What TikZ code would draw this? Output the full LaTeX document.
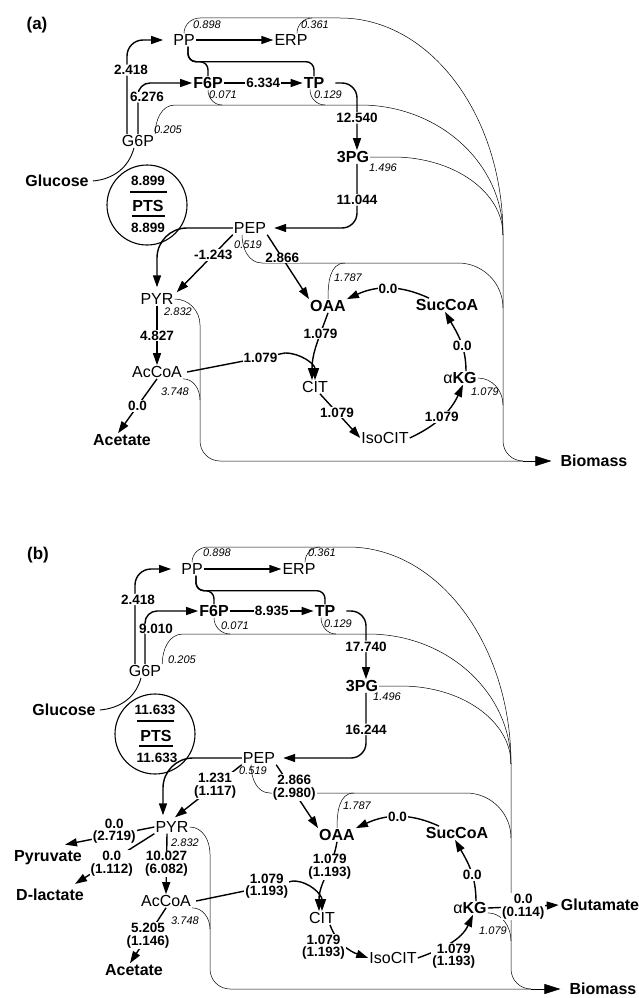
\documentclass[tikz,border=0pt]{standalone}
\usepackage{fontspec}
\setmainfont{Liberation Sans}
\usetikzlibrary{arrows.meta}

\begin{document}
\begin{tikzpicture}[x=1pt,y=1pt,
    met/.style={font=\fontsize{16}{18}\selectfont,inner sep=1pt},
    metb/.style={font=\bfseries\fontsize{16}{18}\selectfont,inner sep=1pt},
    val/.style={font=\bfseries\fontsize{13.5}{12.5}\selectfont,fill=white,
                inner sep=1pt,align=center},
    bio/.style={font=\itshape\fontsize{11}{11}\selectfont,inner sep=0.5pt},
    fl/.style={line width=1.4pt},
    flux/.style={fl,-{Triangle[length=12pt,width=8pt]}},
    drain/.style={line width=0.5pt},
    bigarr/.style={drain,-{Triangle[length=16pt,width=10pt]}},
    pts/.style={draw,circle,line width=1.1pt,minimum size=80pt},
    lbl/.style={font=\bfseries\fontsize{17}{17}\selectfont}]

  \useasboundingbox (0,0) rectangle (639,-998);

  % ---------- panel (a) ----------
  \node[lbl] (taga) at (37,-25) {(a)};
  \node[met]  (PPa)  at (184,-40) {PP};
  \node[met]  (ERPa) at (291,-40) {ERP};
  \node[metb] (F6Pa) at (208,-83) {F6P};
  \node[metb] (TPa)  at (314,-83) {TP};
  \node[met]  (G6Pa) at (138,-141) {G6P};
  \node[metb] (PGa)  at (353,-157) {3PG};
  \node[metb] (Glca) at (57,-181) {Glucose};
  \node[pts]  (PTSa) at (147,-205) {};
  \node[met]  (PEPa) at (250,-228) {PEP};
  \node[met]  (PYRa) at (157,-299) {PYR};
  \node[metb] (OAAa) at (328,-306) {OAA};
  \node[metb] (SucCoAa) at (447,-305) {SucCoA};
  \node[met]  (AcCoAa) at (157,-372) {AcCoA};
  \node[metb] (KGa)  at (460,-378) {{\mdseries α}KG};
  \node[met]  (CITa) at (315,-387) {CIT};
  \node[met]  (IsoCITa) at (385,-438) {IsoCIT};
  \node[metb] (Aceta) at (122,-440) {Acetate};
  \node[metb] (Bioa) at (594,-461) {Biomass};

  \node[val,fill=none] (ptsina) at (148,-181) {8.899};
  \node[metb] (ptsa) at (148,-206) {PTS};
  \node[val,fill=none] (ptsouta) at (148,-228) {8.899};
  \draw[line width=1.2pt] (130,-192) -- (167,-192);
  \draw[line width=1.2pt] (132,-216) -- (165,-216);

  % drains to biomass
  \draw[drain] (PPa.north) to[out=90,in=180] (200,-18) -- (340,-18)
    arc[start angle=90,end angle=0,x radius=163,y radius=217] -- (503,-441)
    arc[start angle=180,end angle=270,radius=20];
  \draw[drain] ([xshift=6pt]ERPa.north) to[out=90,in=180] (312,-18);
  \draw[drain] (G6Pa.north east) to[out=90,in=180] (175,-105) -- (360,-105)
    arc[start angle=90,end angle=0,x radius=143,y radius=130];
  \draw[drain] (F6Pa.south) to[out=-90,in=180] (222,-105);
  \draw[drain] ([xshift=-4pt]TPa.south) to[out=-90,in=180] (325,-105);
  \draw[drain] (PGa.east) -- (393,-157)
    arc[start angle=90,end angle=0,x radius=110,y radius=78];
  \draw[drain] ([xshift=-8pt]PEPa.south) to[out=-90,in=180] (262,-263) -- (458,-263)
    arc[start angle=90,end angle=0,radius=45];
  \draw[drain] (OAAa.north) to[out=90,in=180] (345,-263);
  \draw[drain] (KGa.east) to[out=0,in=90] (503,-405);
  \draw[drain] (PYRa.east) to[out=0,in=90] (200,-325) -- (200,-441)
    arc[start angle=180,end angle=270,radius=20] -- (523,-461);
  \draw[drain] (AcCoAa.south east) to[out=0,in=90] (200,-400);
  \draw[bigarr] (523,-461) -- ([xshift=-8pt]Bioa.west);

  % fluxes
  \draw[flux,rounded corners=16pt] ([xshift=-11pt]G6Pa.north) |- node[val,pos=0.34,xshift=4pt]{2.418} ([xshift=-9pt]PPa.west);
  \draw[flux,rounded corners=12pt] (G6Pa.north) |- node[val,pos=0.36,xshift=9pt]{6.276} (F6Pa.west);
  \draw[flux] (PPa.east) -- (ERPa.west);
  \draw[fl,rounded corners=8pt] ([xshift=4pt]PPa.south) -- ++(0,-15) -| (TPa.north);
  \draw[fl,rounded corners=8pt] ([xshift=4pt]PPa.south) -- ++(0,-15) -| (F6Pa.north);
  \draw[flux] (F6Pa.east) -- node[val]{6.334} (TPa.west);
  \draw[flux,rounded corners=15pt] ([xshift=10pt]TPa.east) -| node[val,pos=0.76]{12.540} ([xshift=4pt]PGa.north);
  \draw[flux,rounded corners=15pt] ([xshift=4pt]PGa.south) |- node[val,pos=0.28]{11.044} ([xshift=7pt]PEPa.east);
  \draw[flux,rounded corners=30pt] (PEPa.west) -| ([yshift=5pt]PYRa.north);
  \draw[flux] (PEPa.south west) -- node[val,pos=0.35]{-1.243} ([xshift=2pt]PYRa.north east);
  \draw[flux] (PEPa.south east) -- node[val,pos=0.36,inner sep=0.5pt]{2.866} (OAAa.north west);
  \draw[flux] (PYRa.south) -- node[val]{4.827} (AcCoAa.north);
  \draw[flux] (AcCoAa.south) -- node[val]{0.0} ([xshift=-4pt]Aceta.north);
  \draw[flux] ([xshift=4pt]AcCoAa.east) -- node[val,pos=0.75]{1.079} (285,-353) to[out=0,in=90] (CITa.north);
  \draw[flux] (OAAa.south) to[out=-110,in=90] node[val,pos=0.3]{1.079} ([xshift=-3pt]CITa.north);
  \draw[flux] ([xshift=5pt]CITa.south) -- node[val,pos=0.42]{1.079} (IsoCITa.west);
  \draw[flux] (IsoCITa.east) to[out=25,in=-115] node[val]{1.079} ([xshift=3pt]KGa.south);
  \draw[flux] ([xshift=6pt]KGa.north) to[out=90,in=-60] node[val,pos=0.4]{0.0} ([xshift=-2pt]SucCoAa.south);
  \draw[flux] ([xshift=-18pt]SucCoAa.north) to[out=155,in=25] node[val]{0.0} (OAAa.north east);
  \draw[line width=0.9pt] ([xshift=3pt]Glca.east) to[out=5,in=-105] ([xshift=-4pt]G6Pa.south);

  % biomass coefficients
  \node[bio] (b1a) at (207,-25) {0.898};
  \node[bio] (b2a) at (315,-25) {0.361};
  \node[bio] (b3a) at (223,-95) {0.071};
  \node[bio] (b4a) at (328,-95) {0.129};
  \node[bio] (b5a) at (168,-130) {0.205};
  \node[bio] (b6a) at (383,-168) {1.496};
  \node[bio] (b7a) at (248,-245) {0.519};
  \node[bio] (b8a) at (178,-312) {2.832};
  \node[bio] (b9a) at (175,-392) {3.748};
  \node[bio] (b10a) at (348,-278) {1.787};
  \node[bio] (b11a) at (485,-392) {1.079};

  % ---------- panel (b) ----------
  \begin{scope}[shift={(8,-529)}]
  \node[lbl] (tagb) at (30,-26) {(b)};
  \node[met]  (PPb)  at (184,-40) {PP};
  \node[met]  (ERPb) at (291,-40) {ERP};
  \node[metb] (F6Pb) at (206,-82) {F6P};
  \node[metb] (TPb)  at (317,-82) {TP};
  \node[met]  (G6Pb) at (137,-142) {G6P};
  \node[metb] (PGb)  at (354,-157) {3PG};
  \node[metb] (Glcb) at (56,-181) {Glucose};
  \node[pts]  (PTSb) at (147,-205) {};
  \node[met]  (PEPb) at (251,-229) {PEP};
  \node[met]  (PYRb) at (164,-298) {PYR};
  \node[metb] (OAAb) at (329,-306) {OAA};
  \node[metb] (SucCoAb) at (449,-304) {SucCoA};
  \node[met]  (AcCoAb) at (158,-372) {AcCoA};
  \node[metb] (KGb)  at (462,-379) {{\mdseries α}KG};
  \node[met]  (CITb) at (314,-389) {CIT};
  \node[met]  (IsoCITb) at (385,-429) {IsoCIT};
  \node[metb] (Acetb) at (126,-441) {Acetate};
  \node[metb] (Pyrb) at (40,-329) {Pyruvate};
  \node[metb] (Lacb) at (42,-366) {D-lactate};
  \node[metb] (Glub) at (592,-376) {Glutamate};
  \node[metb] (Biob) at (595,-460) {Biomass};

  \node[val,fill=none] (ptsinb) at (147,-181) {11.633};
  \node[metb] (ptsb) at (148,-207) {PTS};
  \node[val,fill=none] (ptsoutb) at (149,-229) {11.633};
  \draw[line width=1.2pt] (129,-192) -- (166,-192);
  \draw[line width=1.2pt] (131,-217) -- (165,-217);

  % drains to biomass
  \draw[drain] (PPb.north) to[out=90,in=180] (200,-18) -- (340,-18)
    arc[start angle=90,end angle=0,x radius=163,y radius=217] -- (503,-440)
    arc[start angle=180,end angle=270,radius=20];
  \draw[drain] ([xshift=6pt]ERPb.north) to[out=90,in=180] (312,-18);
  \draw[drain] (G6Pb.north east) to[out=90,in=180] (175,-105) -- (360,-105)
    arc[start angle=90,end angle=0,x radius=143,y radius=130];
  \draw[drain] (F6Pb.south) to[out=-90,in=180] (222,-105);
  \draw[drain] ([xshift=-4pt]TPb.south) to[out=-90,in=180] (328,-105);
  \draw[drain] (PGb.east) -- (393,-157)
    arc[start angle=90,end angle=0,x radius=110,y radius=78];
  \draw[drain] ([xshift=-8pt]PEPb.south) to[out=-90,in=180] (262,-264) -- (458,-264)
    arc[start angle=90,end angle=0,radius=45];
  \draw[drain] (OAAb.north) to[out=90,in=180] (346,-264);
  \draw[drain] ([yshift=2pt]KGb.south east) to[out=0,in=90] (503,-412);
  \draw[drain] (PYRb.east) to[out=0,in=90] (202,-325) -- (202,-440)
    arc[start angle=180,end angle=270,radius=20] -- (523,-460);
  \draw[drain] (AcCoAb.south east) to[out=0,in=90] (202,-400);
  \draw[bigarr] (523,-460) -- ([xshift=-8pt]Biob.west);

  % fluxes
  \draw[flux,rounded corners=16pt] ([xshift=-10pt]G6Pb.north) |- node[val,pos=0.34,xshift=3pt]{2.418} ([xshift=-9pt]PPb.west);
  \draw[flux,rounded corners=12pt] (G6Pb.north) |- node[val,pos=0.33,xshift=11pt]{9.010} (F6Pb.west);
  \draw[flux] (PPb.east) -- (ERPb.west);
  \draw[fl,rounded corners=8pt] ([xshift=4pt]PPb.south) -- ++(0,-15) -| (TPb.north);
  \draw[fl,rounded corners=8pt] ([xshift=4pt]PPb.south) -- ++(0,-15) -| (F6Pb.north);
  \draw[flux] (F6Pb.east) -- node[val]{8.935} (TPb.west);
  \draw[flux,rounded corners=15pt] ([xshift=10pt]TPb.east) -| node[val,pos=0.76]{17.740} ([xshift=4pt]PGb.north);
  \draw[flux,rounded corners=15pt] ([xshift=4pt]PGb.south) |- node[val,pos=0.28]{16.244} ([xshift=7pt]PEPb.east);
  \draw[flux,rounded corners=30pt] (PEPb.west) -| ([xshift=-9pt,yshift=5pt]PYRb.north);
  \draw[flux] (PEPb.south west) -- node[val,pos=0.4]{1.231\\(1.117)} ([xshift=3pt,yshift=3pt]PYRb.north);
  \draw[flux] (PEPb.south east) -- node[val,pos=0.36,xshift=3pt]{2.866\\(2.980)} (OAAb.north west);
  \draw[flux] (PYRb.west) -- node[val,pos=0.45,yshift=4pt]{0.0\\(2.719)} ([xshift=17pt,yshift=5pt]Pyrb.north);
  \draw[flux] (PYRb.south west) -- node[val,pos=0.6,xshift=5pt]{0.0\\(1.112)} ([xshift=25pt,yshift=4pt]Lacb.north);
  \draw[flux] ([xshift=-5pt]PYRb.south) -- node[val]{10.027\\(6.082)} (AcCoAb.north);
  \draw[flux] (AcCoAb.south) -- node[val]{5.205\\(1.146)} ([xshift=-4pt]Acetb.north);
  \draw[flux] ([xshift=4pt]AcCoAb.east) -- node[val,pos=0.73]{1.079\\(1.193)} (285,-352) to[out=0,in=90] (CITb.north);
  \draw[flux] (OAAb.south) to[out=-100,in=90] node[val,pos=0.35]{1.079\\(1.193)} ([xshift=-3pt]CITb.north);
  \draw[flux] ([xshift=8pt]CITb.south) to[out=-70,in=160] node[val,pos=0.55,anchor=east]{1.079\\(1.193)} (IsoCITb.west);
  \draw[flux] (IsoCITb.east) to[out=20,in=-115] node[val,pos=0.5,anchor=north,xshift=3pt]{1.079\\(1.193)} ([xshift=3pt]KGb.south);
  \draw[flux] ([xshift=6pt]KGb.north) to[out=90,in=-60] node[val,pos=0.4]{0.0} ([xshift=-2pt]SucCoAb.south);
  \draw[flux] ([xshift=-18pt]SucCoAb.north) to[out=155,in=25] node[val]{0.0} (OAAb.north east);
  \draw[flux] (KGb.east) -- node[val]{0.0\\(0.114)} ([xshift=-1pt]Glub.west);
  \draw[line width=0.9pt] ([xshift=3pt]Glcb.east) to[out=5,in=-105] ([xshift=-4pt]G6Pb.south);

  % biomass coefficients
  \node[bio] (b1b) at (209,-24) {0.898};
  \node[bio] (b2b) at (314,-24) {0.361};
  \node[bio] (b3b) at (227,-97) {0.071};
  \node[bio] (b4b) at (330,-95) {0.129};
  \node[bio] (b5b) at (174,-131) {0.205};
  \node[bio] (b6b) at (379,-168) {1.496};
  \node[bio] (b7b) at (245,-242) {0.519};
  \node[bio] (b8b) at (177,-314) {2.832};
  \node[bio] (b9b) at (177,-392) {3.748};
  \node[bio] (b10b) at (349,-277) {1.787};
  \node[bio] (b11b) at (485,-402) {1.079};
  \end{scope}
\end{tikzpicture}
\end{document}
